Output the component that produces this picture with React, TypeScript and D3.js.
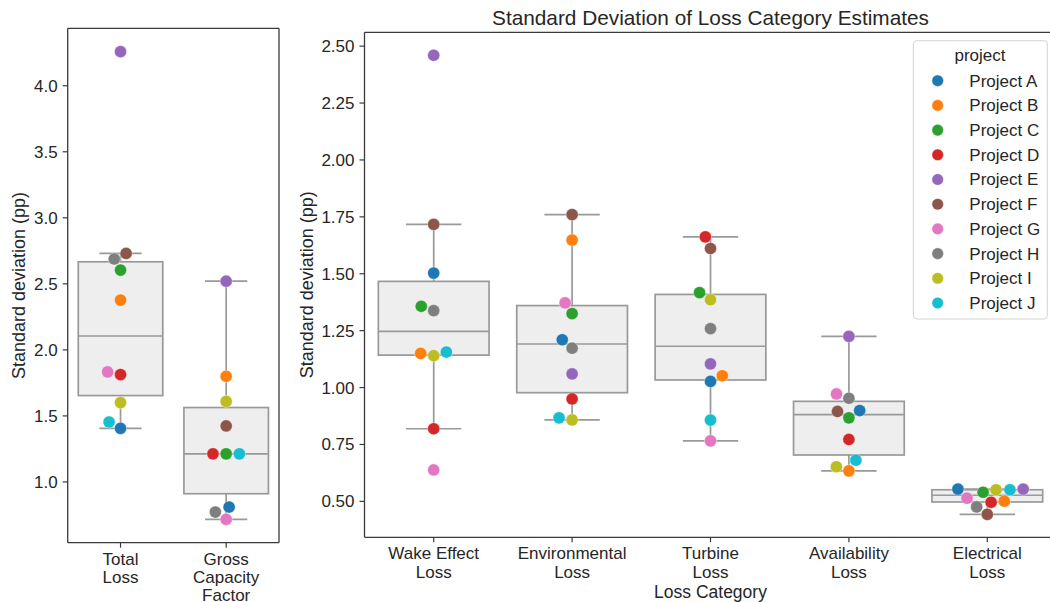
import React from "react";
import * as d3 from "d3";

const projects = ["Project A","Project B","Project C","Project D","Project E","Project F","Project G","Project H","Project I","Project J"];
const colors = ["#1f77b4","#ff7f0e","#2ca02c","#d62728","#9467bd","#8c564b","#e377c2","#7f7f7f","#bcbd22","#17becf"];

const leftCategories = ["Total\nLoss", "Gross\nCapacity\nFactor"];
const totalLoss = [1.406, 2.377, 2.604, 1.813, 4.258, 2.73, 1.833, 2.688, 1.601, 1.454];
const grossCapacityFactor = [0.81, 1.80, 1.213, 1.213, 2.52, 1.424, 0.717, 0.772, 1.61, 1.213];

const rightCategories = ["Wake Effect\nLoss", "Environmental\nLoss", "Turbine\nLoss", "Availability\nLoss", "Electrical\nLoss"];
const wakeEffectLoss = [1.503, 1.15, 1.357, 0.819, 2.46, 1.717, 0.638, 1.338, 1.14, 1.156];
const environmentalLoss = [1.21, 1.648, 1.325, 0.95, 1.06, 1.76, 1.372, 1.173, 0.858, 0.867];
const turbineLoss = [1.027, 1.052, 1.417, 1.662, 1.104, 1.611, 0.766, 1.259, 1.386, 0.857];
const availabilityLoss = [0.899, 0.634, 0.867, 0.772, 1.225, 0.895, 0.972, 0.953, 0.652, 0.681];
const electricalLoss = [0.554, 0.501, 0.54, 0.496, 0.554, 0.443, 0.514, 0.476, 0.551, 0.551];

const leftTicks = [1.0, 1.5, 2.0, 2.5, 3.0, 3.5, 4.0];
const rightTicks = [0.5, 0.75, 1.0, 1.25, 1.5, 1.75, 2.0, 2.25, 2.5];

// swarm tie-break: points that try the right side first
const rightFirst = [{ category: "Turbine\nLoss", project: "Project B" }];

const FONT = "'Liberation Sans', Arial, sans-serif";
const TXT = "#262626";
const SPINE = "#3a3a3a";
const BOXFILL = "#eeeeee";
const BOXLINE = "#999999";
const R = 6.3;
const TICK_FS = 17;

function paddedDomain(series: number[][]): [number, number] {
  const all = series.flat();
  const mn = d3.min(all)!, mx = d3.max(all)!;
  const pad = (mx - mn) * 0.05;
  return [mn - pad, mx + pad];
}

function boxStats(vals: number[]) {
  const s = [...vals].sort((a, b) => a - b);
  const q1 = d3.quantile(s, 0.25)!;
  const med = d3.quantile(s, 0.5)!;
  const q3 = d3.quantile(s, 0.75)!;
  const iqr = q3 - q1;
  const lo = d3.min(s.filter((v) => v >= q1 - 1.5 * iqr))!;
  const hi = d3.max(s.filter((v) => v <= q3 + 1.5 * iqr))!;
  return { q1, med, q3, lo, hi };
}

function swarm(vals: number[], y: (v: number) => number, cx: number, category: string) {
  const pts = vals.map((v, i) => ({ i, yy: -y(v) }));
  const order = pts.map((_, i) => i).sort((a, b) => pts[a].yy - pts[b].yy || a - b);
  const placed: { i: number; x: number; yy: number }[] = [];
  const d2 = (2 * R) * (2 * R);
  for (const idx of order) {
    const p = pts[idx];
    if (placed.length === 0) { placed.push({ i: p.i, x: cx, yy: p.yy }); continue; }
    const nb: { i: number; x: number; yy: number }[] = [];
    for (let j = placed.length - 1; j >= 0; j--) {
      if (p.yy - placed[j].yy < 2 * R) nb.push(placed[j]); else break;
    }
    nb.reverse();
    const cands: number[] = [cx];
    let leftFirst = !rightFirst.some((r) => r.category === category && r.project === projects[p.i]);
    for (const n of nb) {
      const dy = p.yy - n.yy;
      const dx = Math.sqrt(Math.max(d2 - dy * dy, 0)) * 1.05;
      const cl = n.x - dx, cr = n.x + dx;
      if (leftFirst) cands.push(cl, cr); else cands.push(cr, cl);
      leftFirst = !leftFirst;
    }
    const sorted = cands.map((c, k) => ({ c, k })).sort((a, b) => {
      const da = Math.abs(a.c - cx), db = Math.abs(b.c - cx);
      if (Math.abs(da - db) < 1e-9) return a.k - b.k;
      return da - db;
    });
    let chosen = sorted[0].c;
    for (const { c } of sorted) {
      const ok = nb.every((n) => (c - n.x) ** 2 + (p.yy - n.yy) ** 2 >= d2);
      if (ok) { chosen = c; break; }
    }
    placed.push({ i: p.i, x: chosen, yy: p.yy });
  }
  return placed.map((q) => ({ i: q.i, x: q.x, y: -q.yy }));
}

function Panel({ categories, series, x0, x1, y0, y1, ticks, fmt, showRight }: any) {
  const y = d3.scaleLinear().domain(paddedDomain(series)).range([y1, y0]);
  const x = d3.scalePoint<string>().domain(categories).range([x0, x1]).padding(0.5);
  const step = x.step();
  const bw = step * 0.8;
  return (
    <g>
      {categories.map((cat: string, ci: number) => {
        const vals = series[ci];
        const st = boxStats(vals);
        const cx = x(cat)!;
        const pts = swarm(vals, y, cx, cat);
        return (
          <g key={cat}>
            <line x1={cx} x2={cx} y1={y(st.q3)} y2={y(st.hi)} stroke={BOXLINE} strokeWidth={1.7} />
            <line x1={cx} x2={cx} y1={y(st.q1)} y2={y(st.lo)} stroke={BOXLINE} strokeWidth={1.7} />
            <line x1={cx - bw / 4} x2={cx + bw / 4} y1={y(st.hi)} y2={y(st.hi)} stroke={BOXLINE} strokeWidth={1.7} />
            <line x1={cx - bw / 4} x2={cx + bw / 4} y1={y(st.lo)} y2={y(st.lo)} stroke={BOXLINE} strokeWidth={1.7} />
            <rect x={cx - bw / 2} width={bw} y={y(st.q3)} height={y(st.q1) - y(st.q3)} fill={BOXFILL} stroke={BOXLINE} strokeWidth={1.7} />
            <line x1={cx - bw / 2} x2={cx + bw / 2} y1={y(st.med)} y2={y(st.med)} stroke={BOXLINE} strokeWidth={1.7} />
            {pts.map((p) => (
              <circle key={p.i} cx={p.x} cy={p.y} r={R - 0.2} fill={colors[p.i]} stroke="#ffffff" strokeWidth={0.4} />
            ))}
          </g>
        );
      })}
      {/* spines */}
      <line x1={x0} x2={x0} y1={y0} y2={y1} stroke={SPINE} strokeWidth={1.3} />
      <line x1={x0} x2={x1} y1={y1} y2={y1} stroke={SPINE} strokeWidth={1.3} />
      <line x1={x0} x2={x1} y1={y0} y2={y0} stroke={SPINE} strokeWidth={1.3} />
      {showRight && <line x1={x1} x2={x1} y1={y0} y2={y1} stroke={SPINE} strokeWidth={1.3} />}
      {/* y ticks */}
      {ticks.map((t: number) => (
        <g key={t}>
          <line x1={x0 - 5} x2={x0} y1={y(t)} y2={y(t)} stroke={SPINE} strokeWidth={1.2} />
          <text x={x0 - 10} y={y(t)} dy="0.35em" textAnchor="end" fontSize={TICK_FS} fill={TXT}>{d3.format(fmt)(t)}</text>
        </g>
      ))}
      {/* x ticks */}
      {categories.map((cat: string) => (
        <g key={cat}>
          <line x1={x(cat)} x2={x(cat)} y1={y1} y2={y1 + 5} stroke={SPINE} strokeWidth={1.2} />
          <text x={x(cat)} y={y1 + 22} textAnchor="middle" fontSize={TICK_FS} fill={TXT}>
            {cat.split("\n").map((ln, k) => (
              <tspan key={k} x={x(cat)} dy={k === 0 ? 0 : 18.3}>{ln}</tspan>
            ))}
          </text>
        </g>
      ))}
    </g>
  );
}

export default function App() {
  const leftSeries = [totalLoss, grossCapacityFactor];
  const rightSeries = [wakeEffectLoss, environmentalLoss, turbineLoss, availabilityLoss, electricalLoss];
  const L = { x0: 67.7, x1: 279, y0: 28.3, y1: 542.7 };
  const Rt = { x0: 364.5, x1: 1056.5, y0: 32.3, y1: 537.3 };
  const legY0 = 80.7, legStep = 24.7;
  return (
    <svg width={1050} height={602} style={{ position: "absolute", left: 0, top: 0, background: "#fff" }} fontFamily={FONT}>
      <rect width={1050} height={602} fill="#fff" />
      <Panel categories={leftCategories} series={leftSeries} {...L} ticks={leftTicks} fmt=".1f" showRight={true} />
      <Panel categories={rightCategories} series={rightSeries} {...Rt} ticks={rightTicks} fmt=".2f" showRight={true} />
      <text transform={`translate(19,${(L.y0 + L.y1) / 2}) rotate(-90)`} textAnchor="middle" dy="0.35em" fontSize={18} fill={TXT}>Standard deviation (pp)</text>
      <text transform={`translate(306.5,${(Rt.y0 + Rt.y1) / 2}) rotate(-90)`} textAnchor="middle" dy="0.35em" fontSize={18} fill={TXT}>Standard deviation (pp)</text>
      <text x={(Rt.x0 + Rt.x1) / 2} y={598} textAnchor="middle" fontSize={17.5} fill={TXT}>Loss Category</text>
      <text x={(Rt.x0 + Rt.x1) / 2} y={25} textAnchor="middle" fontSize={20.8} fill={TXT}>Standard Deviation of Loss Category Estimates</text>
      {/* legend */}
      <rect x={913.3} y={40.7} width={134} height={278.3} rx={3.5} fill="#ffffff" fillOpacity={0.85} stroke="#d4d4d4" strokeWidth={1} />
      <text x={980} y={55} dy="0.35em" textAnchor="middle" fontSize={17} fill={TXT}>project</text>
      {projects.map((p, i) => (
        <g key={p}>
          <circle cx={937.7} cy={legY0 + i * legStep} r={R - 0.5} fill={colors[i]} stroke="#fff" strokeWidth={0.4} />
          <text x={969.3} y={legY0 + i * legStep} dy="0.35em" fontSize={17} fill={TXT}>{p}</text>
        </g>
      ))}
    </svg>
  );
}
